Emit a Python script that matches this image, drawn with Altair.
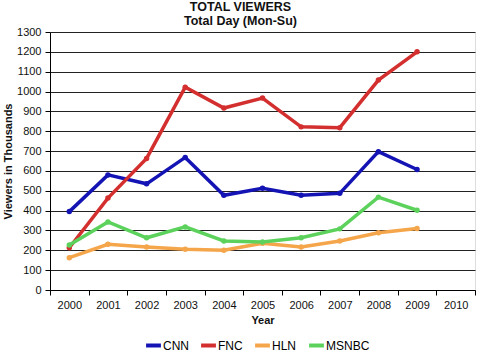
import altair as alt
import pandas as pd

years = ["2000", "2001", "2002", "2003", "2004", "2005", "2006", "2007", "2008", "2009"]
all_years = years + ["2010"]
cnn = [395, 580, 535, 668, 477, 513, 477, 487, 697, 607]
fnc = [213, 463, 663, 1022, 917, 967, 822, 818, 1058, 1200]
hln = [163, 230, 217, 205, 200, 236, 217, 247, 288, 310]
msnbc = [227, 343, 263, 318, 247, 242, 263, 308, 468, 402]

networks = ["CNN", "FNC", "HLN", "MSNBC"]
colors = ["#1414b4", "#d42f2f", "#f5a54a", "#5cd25c"]

rows = []
for name, vals in zip(networks, [cnn, fnc, hln, msnbc]):
    for y, v in zip(years, vals):
        rows.append({"Year": y, "Network": name, "Viewers": v})
df = pd.DataFrame(rows)

font = "Liberation Sans"

x = alt.X("Year:O", scale=alt.Scale(type="band", domain=all_years, paddingInner=0, paddingOuter=0),
          axis=alt.Axis(title="Year", labelAngle=0, tickBand="extent", labelFontSize=11,
                        titleFontSize=11, titleFontWeight="bold", labelPadding=4, titlePadding=4,
                        domainColor="#000", tickColor="#000", tickSize=5, labelColor="#111", titleColor="#111",
                        labelFont=font, titleFont=font, grid=False))
y = alt.Y("Viewers:Q", scale=alt.Scale(domain=[0, 1300], nice=False),
          axis=alt.Axis(title="Viewers in Thousands", values=list(range(0, 1301, 100)), format="d",
                        labelFontSize=11, titleFontSize=11, titleFontWeight="bold", labelPadding=4,
                        titlePadding=3, domainColor="#000", tickColor="#000", tickSize=5,
                        labelColor="#111", titleColor="#111",
                        gridColor="#222", gridWidth=1, labelFont=font, titleFont=font))
color = alt.Color("Network:N", scale=alt.Scale(domain=networks, range=colors),
                  legend=alt.Legend(title=None, orient="none", direction="horizontal",
                                    legendX=94, legendY=304, symbolType="stroke", gridAlign="none",
                                    symbolStrokeWidth=4, symbolSize=220, labelFontSize=12,
                                    labelFont=font, columnPadding=4, symbolOffset=0, labelOffset=0))

base = alt.Chart(df)
line = base.mark_line(strokeWidth=3.5).encode(x=x, y=y, color=color)
pts = base.mark_point(filled=True, size=30, opacity=1).encode(
    x=x, y=y, color=alt.Color("Network:N", scale=alt.Scale(domain=networks, range=colors), legend=None))

chart = (line + pts).properties(
    width=425, height=258,
    title=alt.TitleParams(text="TOTAL VIEWERS", subtitle="Total Day (Mon-Su)", fontSize=12.5, subtitleFontSize=12.5,
                          fontWeight="bold", subtitleFontWeight="bold", font=font, subtitleFont=font,
                          color="#111", subtitleColor="#111", anchor="middle", dx=-22, offset=-1, subtitlePadding=1),
    autosize=alt.AutoSizeParams(type="none"),
    padding={"left": 50, "top": 32, "right": 5, "bottom": 63},
).configure_view(stroke="#bbb", strokeWidth=1).configure(background="white")

chart.save("out.html", embed_options={"renderer": "svg", "actions": False})
